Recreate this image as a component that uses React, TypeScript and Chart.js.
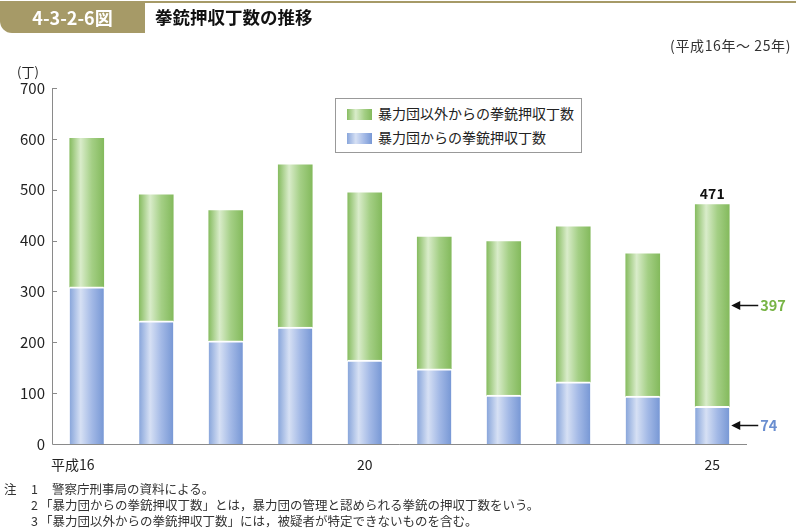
import React, { useEffect, useRef } from "react";
import { Chart, registerables } from "chart.js";

Chart.register(...registerables);

const categories = ["平成16", "", "", "", "20", "", "", "", "", "25"];
const gangValues = [309, 242, 203, 230, 165, 148, 96, 122, 94, 74];
const otherValues = [292, 248, 256, 319, 329, 259, 302, 305, 280, 397];
const yTicks = [0, 100, 200, 300, 400, 500, 600, 700];

const seriesNames = ["暴力団からの拳銃押収丁数", "暴力団以外からの拳銃押収丁数"];
const footnotes = [
  ["注", "1", "警察庁刑事局の資料による。"],
  ["", "2", "「暴力団からの拳銃押収丁数」とは，暴力団の管理と認められる拳銃の押収丁数をいう。"],
  ["", "3", "「暴力団以外からの拳銃押収丁数」には，被疑者が特定できないものを含む。"],
];

const FONT = '"Noto Sans CJK JP", "Noto Sans", sans-serif';
const BAR_W = 34;
const GREEN_STOPS = ["#88bd62", "#d9ecca", "#a4cf85", "#84ba5d"];
const BLUE_STOPS = ["#89a6db", "#d6e0f4", "#a3b9e6", "#7898d5"];
const OLIVE = "#a69a67";

function makeGrad(ctx: any, stops: string[]) {
  const chart = ctx.chart;
  const xs = chart.scales && chart.scales.x;
  if (!xs || ctx.dataIndex === undefined) return stops[0];
  const cx = xs.getPixelForValue(ctx.dataIndex);
  if (!isFinite(cx)) return stops[0];
  const g = chart.ctx.createLinearGradient(cx - BAR_W / 2, 0, cx + BAR_W / 2, 0);
  g.addColorStop(0, stops[0]);
  g.addColorStop(0.32, stops[1]);
  g.addColorStop(0.65, stops[2]);
  g.addColorStop(1, stops[3]);
  return g;
}

const overlayPlugin = {
  id: "overlay",
  afterDatasetsDraw(chart: any) {
    const { ctx, chartArea, scales } = chart;
    const y = scales.y;
    const x = scales.x;
    ctx.save();
    // axes
    ctx.strokeStyle = "#8a8a8a";
    ctx.lineWidth = 1;
    ctx.beginPath();
    ctx.moveTo(chartArea.left + 0.5, chartArea.top);
    ctx.lineTo(chartArea.left + 0.5, chartArea.bottom + 0.5);
    ctx.lineTo(chartArea.right, chartArea.bottom + 0.5);
    yTicks.forEach((v) => {
      if (v === 0) return;
      const py = Math.round(y.getPixelForValue(v)) + 0.5;
      ctx.moveTo(chartArea.left, py);
      ctx.lineTo(chartArea.left + 5, py);
    });
    ctx.stroke();

    // unit
    ctx.fillStyle = "#222";
    ctx.font = `13px ${FONT}`;
    ctx.textAlign = "left";
    ctx.textBaseline = "middle";
    ctx.fillText("(丁)", 17, 72);

    // annotations on last bar
    const last = categories.length - 1;
    const cx = x.getPixelForValue(last);
    const total = gangValues[last] + otherValues[last];
    ctx.font = `bold 14px ${FONT}`;
    ctx.textAlign = "center";
    ctx.textBaseline = "bottom";
    ctx.fillStyle = "#111";
    ctx.fillText(String(total), cx, y.getPixelForValue(total) - 4);

    const drawArrow = (val: number, mid: number, color: string) => {
      const py = Math.round(y.getPixelForValue(mid)) + 0.5;
      const hx = cx + BAR_W / 2 + 2;
      ctx.strokeStyle = "#111";
      ctx.fillStyle = "#111";
      ctx.lineWidth = 1.5;
      ctx.beginPath();
      ctx.moveTo(hx + 5, py);
      ctx.lineTo(hx + 27, py);
      ctx.stroke();
      ctx.beginPath();
      ctx.moveTo(hx, py);
      ctx.lineTo(hx + 9, py - 4.5);
      ctx.lineTo(hx + 9, py + 4.5);
      ctx.closePath();
      ctx.fill();
      ctx.fillStyle = color;
      ctx.font = `bold 14.5px ${FONT}`;
      ctx.textAlign = "left";
      ctx.textBaseline = "middle";
      ctx.fillText(String(val), hx + 29, py);
    };
    drawArrow(otherValues[last], gangValues[last] + otherValues[last] / 2, "#78b446");
    drawArrow(gangValues[last], gangValues[last] / 2, "#6a8ed0");
    ctx.restore();
  },
};

function ChartBox() {
  const ref = useRef<HTMLCanvasElement | null>(null);
  useEffect(() => {
    if (!ref.current) return;
    const chart = new Chart(ref.current, {
      type: "bar",
      data: {
        labels: categories.map((c) => (c === "平成16" ? c + "\u3000\u3000" : c)),
        datasets: [
          {
            label: seriesNames[0],
            data: gangValues,
            backgroundColor: (ctx: any) => makeGrad(ctx, BLUE_STOPS),
            borderColor: "#ffffff",
            borderWidth: { top: 2, left: 0, right: 0, bottom: 0 },
            borderSkipped: false,
            barThickness: BAR_W,
          },
          {
            label: seriesNames[1],
            data: otherValues,
            backgroundColor: (ctx: any) => makeGrad(ctx, GREEN_STOPS),
            borderWidth: 0,
            barThickness: BAR_W,
          },
        ],
      },
      options: {
        animation: false,
        responsive: false,
        maintainAspectRatio: false,
        layout: { padding: { left: 0, right: 49, top: 88, bottom: 0 } },
        plugins: { legend: { display: false }, tooltip: { enabled: false } },
        scales: {
          x: {
            stacked: true,
            grid: { display: false, drawTicks: false },
            border: { display: false },
            ticks: {
              autoSkip: false,
              maxRotation: 0,
              padding: 12,
              color: "#222",
              font: { family: FONT, size: 14 },
            },
            afterFit: (s: any) => {
              s.height = 86;
            },
          },
          y: {
            stacked: true,
            min: 0,
            max: 700,
            grid: { display: false, drawTicks: false },
            border: { display: false },
            ticks: {
              stepSize: 100,
              padding: 7,
              color: "#222",
              font: { family: FONT, size: 15 },
            },
            afterFit: (s: any) => {
              s.width = 52;
            },
          },
        },
      },
      plugins: [overlayPlugin],
    });
    return () => chart.destroy();
  }, []);
  return (
    <canvas
      ref={ref}
      width={796}
      height={530}
      style={{ position: "absolute", left: 0, top: 0, width: 796, height: 530 }}
    />
  );
}

export default function App() {
  useEffect(() => {
    document.body.style.margin = "0";
  }, []);
  const swatch = (stops: string[]) => ({
    position: "absolute" as const,
    left: 11,
    width: 25,
    height: 11,
    background: `linear-gradient(to right, ${stops[0]}, ${stops[1]} 35%, ${stops[2]} 70%, ${stops[3]})`,
  });
  return (
    <div
      style={{
        position: "absolute",
        left: 0,
        top: 0,
        width: 796,
        height: 530,
        background: "#fff",
        fontFamily: FONT,
        overflow: "hidden",
      }}
    >
      <ChartBox />
      {/* header */}
      <div style={{ position: "absolute", left: 0, top: 1, width: 796, height: 2, background: OLIVE }} />
      <div
        style={{
          position: "absolute",
          left: 0,
          top: 1,
          width: 145,
          height: 32,
          background: OLIVE,
          borderBottomLeftRadius: 12,
          color: "#fff",
          fontWeight: 700,
          fontSize: 18,
          lineHeight: "32px",
          textAlign: "center",
          letterSpacing: 0,
        }}
      >
        4-3-2-6図
      </div>
      <div
        style={{
          position: "absolute",
          left: 155,
          top: 1,
          height: 32,
          lineHeight: "32px",
          fontSize: 17.5,
          fontWeight: 700,
          color: "#111",
        }}
      >
        拳銃押収丁数の推移
      </div>
      <div
        style={{
          position: "absolute",
          right: 5,
          top: 36,
          fontSize: 14,
          color: "#333",
          lineHeight: "18px",
          letterSpacing: 0.6,
        }}
      >
        (平成16年～ 25年)
      </div>
      {/* legend */}
      <div
        style={{
          position: "absolute",
          left: 335,
          top: 98,
          width: 245,
          height: 53,
          border: "1px solid #999",
          background: "#fff",
          fontSize: 14,
          color: "#222",
        }}
      >
        <div style={{ ...swatch(GREEN_STOPS), top: 10 }} />
        <div style={{ position: "absolute", left: 42, top: 4, lineHeight: "20px", whiteSpace: "nowrap" }}>
          {seriesNames[1]}
        </div>
        <div style={{ ...swatch(BLUE_STOPS), top: 34 }} />
        <div style={{ position: "absolute", left: 42, top: 28, lineHeight: "20px", whiteSpace: "nowrap" }}>
          {seriesNames[0]}
        </div>
      </div>
      {/* footnotes */}
      {footnotes.map((f, i) => (
        <div
          key={i}
          style={{
            position: "absolute",
            top: 481 + i * 16,
            left: 0,
            fontSize: 12.5,
            lineHeight: "16px",
            color: "#333",
            whiteSpace: "nowrap",
          }}
        >
          <span style={{ position: "absolute", left: 4 }}>{f[0]}</span>
          <span style={{ position: "absolute", left: 31 }}>{f[1]}</span>
          <span style={{ position: "absolute", left: f[2].startsWith("「") ? 40 : 52 }}>{f[2]}</span>
        </div>
      ))}
    </div>
  );
}
